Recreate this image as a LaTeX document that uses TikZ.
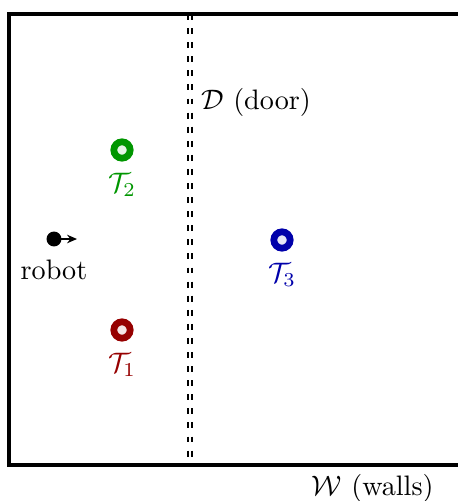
\documentclass[tikz,border=0pt]{standalone}
\usetikzlibrary{arrows.meta}

\definecolor{tgreen}{RGB}{0,150,0}
\definecolor{tred}{RGB}{150,0,0}
\definecolor{tblue}{RGB}{0,0,170}

\begin{document}
\begin{tikzpicture}[x=0.355pt,y=-0.355pt,line cap=butt,line join=miter,every node/.style={inner sep=1pt},
  target/.style={circle,inner sep=0pt,minimum size=5.8pt,line width=2.4pt},
  doorline/.style={line width=0.7pt,dash pattern=on 2.1pt off 2.9pt}]
  \useasboundingbox (0,0) rectangle (458,501);
  % 墙壁
  \draw[line width=1.45pt] (462,14) -- (9,14) -- (9,465) -- (462,465);
  \node[anchor=base east] (walls) at (437,495) {$\mathcal{W}$ (walls)};
  % 门：两条虚线
  \draw[doorline] (188.3,14) -- (188.3,465);
  \draw[doorline] (192.3,14) -- (192.3,465);
  \node[anchor=west] (door) at (198,102) {$\mathcal{D}$ (door)};
  % 目标
  \node[target,draw=tred,fill=tred!10] (t1) at (122,330) {};
  \node[text=tred] (t1lab) at (122,365) {$\mathcal{T}_1$};
  \node[target,draw=tgreen,fill=tgreen!10] (t2) at (122,150) {};
  \node[text=tgreen] (t2lab) at (122,185) {$\mathcal{T}_2$};
  \node[target,draw=tblue,fill=tblue!10] (t3) at (282,240) {};
  \node[text=tblue] (t3lab) at (282,275) {$\mathcal{T}_3$};
  % 机器人
  \node[circle,fill=black,inner sep=0pt,minimum size=5.3pt] (robot) at (54,239) {};
  \coordinate (head) at (77,239);
  \draw[line width=0.6pt,-{Stealth[length=3.5pt,width=3pt]}] (robot.center) -- (head);
  \node (robotlab) at (54,270) {robot};
\end{tikzpicture}
\end{document}
